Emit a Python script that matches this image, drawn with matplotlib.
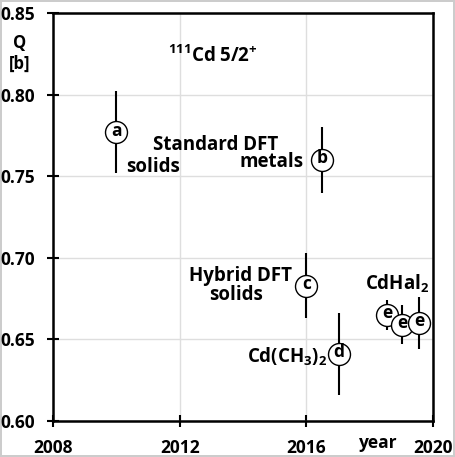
import matplotlib.pyplot as plt

plt.rcParams['font.family'] = ['Open Sans', 'DejaVu Sans']
plt.rcParams['font.weight'] = 'bold'
plt.rcParams['mathtext.fontset'] = 'custom'
plt.rcParams['mathtext.rm'] = 'Open Sans:bold'
plt.rcParams['mathtext.bf'] = 'Open Sans:bold'

# data points: year, quadrupole moment Q [b], error, label letter
years = [2010.0, 2016.5, 2016.0, 2017.03, 2018.55, 2019.02, 2019.56]
q_vals = [0.777, 0.760, 0.683, 0.641, 0.665, 0.659, 0.660]
q_errs = [0.025, 0.020, 0.020, 0.025, 0.009, 0.012, 0.016]
letters = ['a', 'b', 'c', 'd', 'e', 'e', 'e']

xticks = [2008, 2012, 2016, 2020]
yticks = [0.60, 0.65, 0.70, 0.75, 0.80, 0.85]

fig = plt.figure(figsize=(4.55, 4.57), dpi=100)
fig.patch.set_edgecolor('#cccccc')
fig.patch.set_linewidth(1.5)
ax = fig.add_axes([53 / 455, 1 - 421 / 457, 380 / 455, 408 / 457])

ax.errorbar(years, q_vals, yerr=q_errs, fmt='none', ecolor='black', elinewidth=1.5, zorder=2)
ax.scatter(years, q_vals, s=250, facecolor='white', edgecolor='black', linewidth=1.0, zorder=3)
for x, y, t in zip(years, q_vals, letters):
    ax.text(x, y + 0.001, t, ha='center', va='center', fontsize=12.5, zorder=4)

ax.set_xlim(2008, 2020)
ax.set_ylim(0.60, 0.85)
ax.set_xticks(xticks)
ax.set_yticks(yticks)
ax.set_yticklabels(['%.2f' % v for v in yticks])
ax.tick_params(axis='both', direction='inout', length=8, width=1.5, labelsize=12.5)
ax.tick_params(axis='x', pad=9)
ax.tick_params(axis='y', pad=9)
for s in ax.spines.values():
    s.set_linewidth(1.8)
ax.grid(True, color='#dedede', linewidth=1.0)
ax.set_axisbelow(True)

# annotations
fs = 13.5
ax.text(2013.05, 0.8236, r'$^{111}$Cd 5/2$^{+}$', fontsize=fs, ha='center', va='center')
ax.text(2010.3, 0.7555, 'solids', fontsize=fs, ha='left', va='center')
ax.text(2015.1, 0.769, 'Standard DFT', fontsize=fs, ha='right', va='center')
ax.text(2015.9, 0.7585, 'metals', fontsize=fs, ha='right', va='center')
ax.text(2015.55, 0.689, 'Hybrid DFT', fontsize=fs, ha='right', va='center')
ax.text(2014.63, 0.677, 'solids', fontsize=fs, ha='right', va='center')
ax.text(2016.65, 0.6395, r'Cd(CH$_{3}$)$_{2}$', fontsize=fs, ha='right', va='center')
ax.text(2018.86, 0.684, r'CdHal$_{2}$', fontsize=fs, ha='center', va='center')
fig.text(20 / 455, 1 - 43 / 457, 'Q', fontsize=12, ha='center', va='center')
fig.text(20 / 455, 1 - 64 / 457, '[b]', fontsize=12, ha='center', va='center')
fig.text(378 / 455, 1 - 443 / 457, 'year', fontsize=12.5, ha='center', va='center')

fig.savefig('out.png', dpi=100)
